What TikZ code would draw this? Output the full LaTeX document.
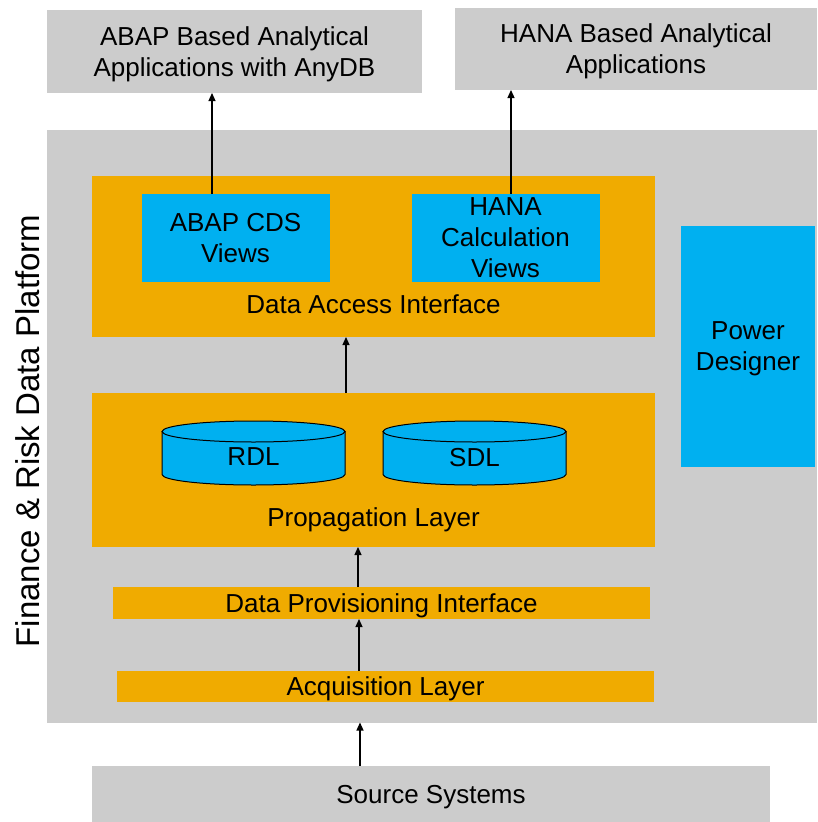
\documentclass[tikz,border=0pt]{standalone}
\usepackage{fontspec}
\setmainfont{Liberation Sans}
\usetikzlibrary{arrows.meta}
\definecolor{boxgray}{RGB}{204,204,204}
\definecolor{layergold}{RGB}{240,171,0}
\definecolor{viewblue}{RGB}{0,176,240}

\begin{document}
\begin{tikzpicture}[x=1pt, y=-1pt,
    box/.style={inner sep=0pt, outer sep=0pt, text depth=0pt, align=center, font=\fontsize{26}{31}\selectfont},
    arr/.style={-{Triangle[length=8pt,width=7pt]}, line width=1.2pt}]
  \useasboundingbox (0,0) rectangle (817,822);

  % applications on top
  \node[box, fill=boxgray, minimum width=375pt, minimum height=83pt] (abapapps) at (234.5,51.5) {ABAP Based Analytical\\Applications with AnyDB};
  \node[box, fill=boxgray, minimum width=362pt, minimum height=82pt] (hanaapps) at (636,49) {HANA Based Analytical\\Applications};

  % platform
  \node[box, fill=boxgray, minimum width=770pt, minimum height=593pt] (platform) at (432,426) {};
  \node[rotate=90, font=\fontsize{33}{40}\selectfont] (platlabel) at (28,431) {Finance \& Risk Data Platform};

  \node[box, fill=layergold, minimum width=563pt, minimum height=161pt] (dai) at (373.5,256.5) {};
  \node[box] (daitext) at (373.5,304) {Data Access Interface};
  \node[box, fill=viewblue, minimum width=188pt, minimum height=88pt] (cds) at (235.5,238) {ABAP CDS\\Views};
  \node[box, fill=viewblue, minimum width=188pt, minimum height=88pt] (calc) at (505.5,238) {HANA\\Calculation\\Views};

  \node[box, fill=viewblue, minimum width=134pt, minimum height=241pt] (power) at (748,346.5) {Power\\Designer};

  \node[box, fill=layergold, minimum width=563pt, minimum height=154pt] (prop) at (373.5,470) {};
  \node[box] (proptext) at (373.5,517) {Propagation Layer};

  % data layers as cylinders
  \foreach \name/\cx in {RDL/253.5, SDL/474.5} {
    \filldraw[fill=viewblue, line width=1pt] (\cx-91.5,431.5) -- (\cx-91.5,474.5)
      arc[start angle=180, end angle=0, x radius=91.5, y radius=10.5] -- (\cx+91.5,431.5) -- cycle;
    \filldraw[fill=viewblue, line width=1pt] (\cx,431.5) ellipse[x radius=91.5, y radius=10.5];
  }
  \node[box] (rdl) at (253.5,457) {RDL};
  \node[box] (sdl) at (474.5,457) {SDL};

  \node[box, fill=layergold, minimum width=537pt, minimum height=32pt] (dpi) at (381.5,603) {Data Provisioning Interface};
  \node[box, fill=layergold, minimum width=537pt, minimum height=31pt] (acq) at (385.5,686.5) {Acquisition Layer};

  \node[box, fill=boxgray, minimum width=678pt, minimum height=56pt] (source) at (431,794) {Source Systems};

  % arrows
  \draw[arr] ([xshift=-23.5pt]cds.north) -- ([xshift=-23.5pt]cds.north |- abapapps.south);
  \draw[arr] ([xshift=5.5pt]calc.north) -- ([xshift=5.5pt]calc.north |- hanaapps.south);
  \draw[arr] ([xshift=-27.5pt]prop.north) -- ([xshift=-27.5pt]prop.north |- dai.south);
  \draw[arr] ([xshift=-23.5pt]dpi.north) -- ([xshift=-23.5pt]dpi.north |- prop.south);
  \draw[arr] ([xshift=-26.5pt]acq.north) -- ([xshift=-26.5pt]acq.north |- dpi.south);
  \draw[arr] ([xshift=-71pt]source.north) -- ([xshift=-71pt]source.north |- platform.south);
\end{tikzpicture}
\end{document}
